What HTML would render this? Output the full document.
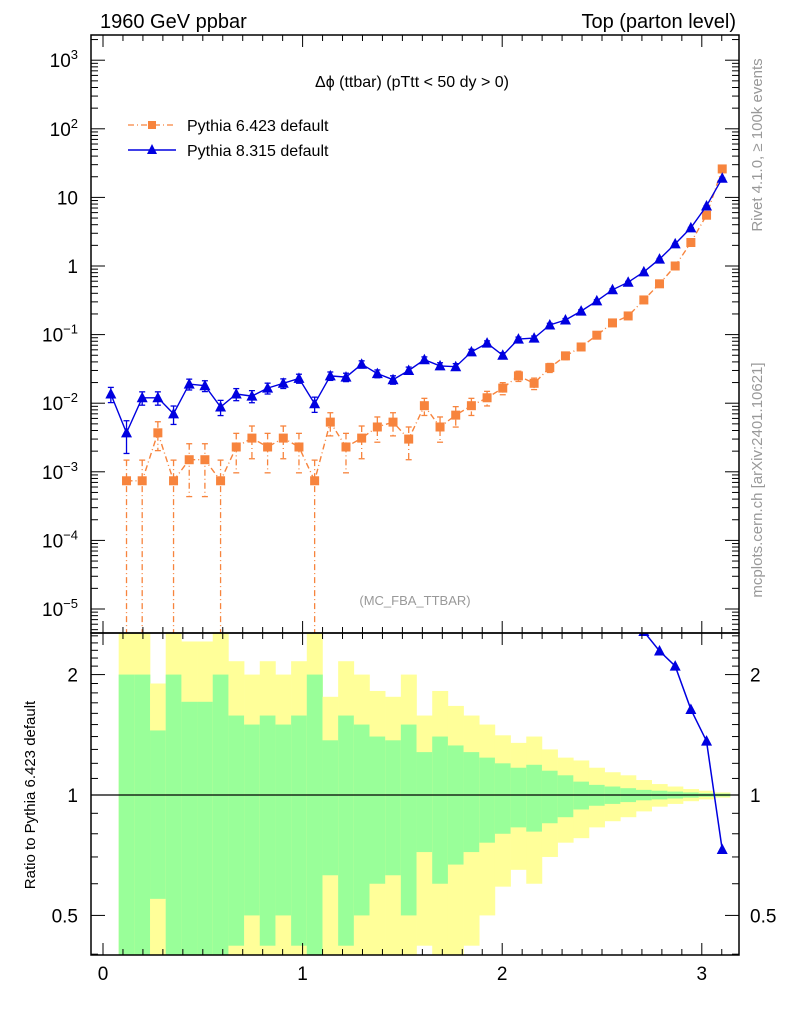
<!DOCTYPE html>
<html><head><meta charset="utf-8"><style>
html,body{margin:0;padding:0;background:#fff;width:786px;height:1024px;overflow:hidden}
svg{display:block;font-family:"Liberation Sans",sans-serif}
</style></head><body>
<svg id="chart" width="786" height="1024" xmlns="http://www.w3.org/2000/svg">
<defs>
<clipPath id="clipMain"><rect x="91" y="35" width="648" height="598"/></clipPath>
<clipPath id="clipRatio"><rect x="91" y="633" width="648" height="322"/></clipPath>
</defs>
<g id="bands" clip-path="url(#clipRatio)"></g>
<g id="marks"></g>
<g id="axes"></g>
<text x="100" y="28" font-size="20">1960 GeV ppbar</text>
<text x="736" y="28" font-size="20" text-anchor="end">Top (parton level)</text>
<text x="412" y="87" font-size="16" text-anchor="middle">Δϕ (ttbar) (pTtt &lt; 50 dy &gt; 0)</text>
<text x="415" y="605" font-size="13" fill="#999" text-anchor="middle">(MC_FBA_TTBAR)</text>
<g>
<g>
<line x1="128" y1="125" x2="176" y2="125" stroke="#f7843d" stroke-width="1.3" stroke-dasharray="6,3,1,3"/>
<rect x="148" y="121" width="8" height="8" fill="#f7843d"/>
<text x="187" y="131" font-size="16">Pythia 6.423 default</text></g>
<g>
<line x1="128" y1="150" x2="176" y2="150" stroke="#0000e0" stroke-width="1.5"/>
<path d="M152,144 L157,154 L147,154 Z" fill="#0000e0"/>
<text x="187" y="156" font-size="16">Pythia 8.315 default</text></g>
</g>
<text transform="translate(762,145) rotate(-90)" font-size="15" fill="#999" text-anchor="middle">Rivet 4.1.0, ≥ 100k events</text>
<text transform="translate(762,480) rotate(-90)" font-size="15" fill="#999" text-anchor="middle">mcplots.cern.ch [arXiv:2401.10621]</text>
<text transform="translate(35,795) rotate(-90)" font-size="15" text-anchor="middle">Ratio to Pythia 6.423 default</text>
</svg>
<script>
const nBins = 40;
const xMax = Math.PI;
const py6Values = [0, 7.4e-4, 7.4e-4, 3.7e-3, 7.4e-4, 1.5e-3, 1.5e-3, 7.4e-4, 2.3e-3, 3.1e-3, 2.3e-3, 3.1e-3, 2.3e-3, 7.4e-4, 5.3e-3, 2.3e-3, 3.1e-3, 4.5e-3, 5.3e-3, 3.0e-3, 9.2e-3, 4.5e-3, 6.7e-3, 9.2e-3, 0.012, 0.0166, 0.025, 0.0195, 0.033, 0.049, 0.066, 0.098, 0.148, 0.187, 0.32, 0.55, 1.0, 2.2, 5.5, 26];
const py6RelErr = [0, 1.0, 1.0, 0.45, 1.0, 0.71, 0.71, 1.0, 0.58, 0.5, 0.58, 0.5, 0.58, 1.0, 0.37, 0.58, 0.5, 0.4, 0.37, 0.5, 0.28, 0.4, 0.33, 0.28, 0.24, 0.2, 0.17, 0.19, 0.15, 0.12, 0.08, 0.06, 0.05, 0.04, 0.03, 0.025, 0.02, 0.015, 0.01, 0.008];
const py6TotErr = [0, 1.6, 1.6, 0.9, 1.6, 1.42, 1.42, 1.6, 1.16, 1.0, 1.16, 1.0, 1.16, 1.6, 0.76, 1.16, 1.0, 0.82, 0.76, 1.0, 0.58, 0.82, 0.67, 0.58, 0.5, 0.41, 0.35, 0.4, 0.3, 0.24, 0.22, 0.17, 0.14, 0.12, 0.09, 0.065, 0.05, 0.035, 0.025, 0.015];
const py8Values = [0.0136, 0.0037, 0.012, 0.012, 0.007, 0.019, 0.018, 0.0088, 0.0136, 0.0127, 0.0166, 0.0195, 0.023, 0.0098, 0.025, 0.024, 0.037, 0.027, 0.022, 0.03, 0.043, 0.035, 0.034, 0.056, 0.075, 0.05, 0.086, 0.089, 0.138, 0.163, 0.22, 0.31, 0.45, 0.58, 0.82, 1.26, 2.1, 3.6, 7.5, 19];
const py8RelErr = [0.25, 0.5, 0.22, 0.22, 0.3, 0.18, 0.18, 0.25, 0.2, 0.2, 0.18, 0.16, 0.15, 0.25, 0.14, 0.14, 0.12, 0.13, 0.14, 0.12, 0.1, 0.11, 0.11, 0.09, 0.08, 0.09, 0.07, 0.07, 0.06, 0.05, 0.045, 0.04, 0.035, 0.03, 0.025, 0.02, 0.017, 0.014, 0.01, 0.008];
const mainTickExps = [-5, -4, -3, -2, -1, 0, 1, 2, 3];
const mainTickLabels = ["10<tspan dy='-8' font-size='13'>−5</tspan>","10<tspan dy='-8' font-size='13'>−4</tspan>","10<tspan dy='-8' font-size='13'>−3</tspan>","10<tspan dy='-8' font-size='13'>−2</tspan>","10<tspan dy='-8' font-size='13'>−1</tspan>","1","10","10<tspan dy='-8' font-size='13'>2</tspan>","10<tspan dy='-8' font-size='13'>3</tspan>"];
const ratioTicks = [0.5, 1, 2];
const ratioTickLabels = ["0.5", "1", "2"];
const xTicks = [0, 1, 2, 3];
const xTickLabels = ["0", "1", "2", "3"];

const NS = "http://www.w3.org/2000/svg";
const X0 = 91, X1 = 739, MT = 35, MB = 633, RB = 955;
const xs = v => 103 + v * 199.6;
const ym = v => 266 - Math.log10(v) * 68.6;
const yr = v => 795 - Math.log10(v) * 400;
const bw = xMax / nBins;
const ctr = i => (i + 0.5) * bw;
const ORANGE = "#f7843d", BLUE = "#0000e0";

function el(tag, attrs, parent) {
  const e = document.createElementNS(NS, tag);
  for (const k in attrs) e.setAttribute(k, attrs[k]);
  parent.appendChild(e);
  return e;
}
const bands = document.getElementById('bands');
const marks = document.getElementById('marks');
const axes = document.getElementById('axes');

for (let i = 0; i < nBins; i++) {
  if (py6Values[i] <= 0) continue;
  const xa = xs(i * bw), xb = xs((i + 1) * bw);
  const t = py6TotErr[i], s = py6RelErr[i];
  const yt = yr(1 + t), ybt = (1 - t) > 0.01 ? yr(1 - t) : RB + 5;
  const yband = el('rect', {x: xa, y: yt, width: xb - xa + 0.3, height: ybt - yt, fill: '#ffff99'}, bands);
  
  
  const gt = yr(1 + s), gb = (1 - s) > 0.01 ? yr(1 - s) : RB + 5;
  const gband = el('rect', {x: xa, y: gt, width: xb - xa + 0.3, height: gb - gt, fill: '#99ff99'}, bands);
  
  
}
const unity = el('line', {x1: X0, x2: X1, y1: yr(1), y2: yr(1), stroke: '#000', 'stroke-width': 1.2}, bands);



const gm = el('g', {'clip-path': 'url(#clipMain)'}, marks);
function series(vals, errs, color, dash, marker, name) {
  const g = el('g', {}, gm);
  
  
  let d = '';
  vals.forEach((v, i) => {
    if (v <= 0) return;
    d += (d ? 'L' : 'M') + xs(ctr(i)).toFixed(1) + ',' + ym(v).toFixed(1);
  });
  el('path', {d: d, fill: 'none', stroke: color, 'stroke-width': 1.4, 'stroke-dasharray': dash}, g);
  vals.forEach((v, i) => {
    if (v <= 0) return;
    const x = xs(ctr(i)), y = ym(v);
    const lo = v * (1 - errs[i]), hi = v * (1 + errs[i]);
    const ylo = lo > 1e-7 ? ym(lo) : MB + 5, yhi = ym(hi);
    el('line', {x1: x, x2: x, y1: yhi, y2: ylo, stroke: color, 'stroke-width': 1.3, 'stroke-dasharray': dash}, g);
    el('line', {x1: x - 3, x2: x + 3, y1: yhi, y2: yhi, stroke: color, 'stroke-width': 1.3}, g);
    if (lo > 1e-7) el('line', {x1: x - 3, x2: x + 3, y1: ylo, y2: ylo, stroke: color, 'stroke-width': 1.3}, g);
    let m;
    if (marker === 'sq') m = el('rect', {x: x - 4.5, y: y - 4.5, width: 9, height: 9, fill: color}, g);
    else m = el('path', {d: `M${x},${y - 6}L${x + 5.5},${y + 4.5}L${x - 5.5},${y + 4.5}Z`, fill: color}, g);
    
    
  });
}
series(py6Values, py6RelErr, ORANGE, '6,3,1,3', 'sq', 'pythia6-series');
series(py8Values, py8RelErr, BLUE, '', 'tri', 'pythia8-series');

const gr = el('g', {'clip-path': 'url(#clipRatio)'}, marks);


let rd = '';
py8Values.forEach((v, i) => {
  if (py6Values[i] <= 0) return;
  const r = v / py6Values[i];
  rd += (rd ? 'L' : 'M') + xs(ctr(i)).toFixed(1) + ',' + yr(r).toFixed(1);
});
el('path', {d: rd, fill: 'none', stroke: BLUE, 'stroke-width': 1.5}, gr);
py8Values.forEach((v, i) => {
  if (py6Values[i] <= 0) return;
  const r = v / py6Values[i];
  const x = xs(ctr(i)), y = yr(r);
  if (y < MT || y > RB) return;
  const m = el('path', {d: `M${x},${y - 6}L${x + 5.5},${y + 4.5}L${x - 5.5},${y + 4.5}Z`, fill: BLUE}, gr);
  
  
});

const f1 = el('rect', {x: X0, y: MT, width: X1 - X0, height: MB - MT, fill: 'none', stroke: '#000', 'stroke-width': 1.5}, axes);


const f2 = el('rect', {x: X0, y: MB, width: X1 - X0, height: RB - MB, fill: 'none', stroke: '#000', 'stroke-width': 1.5}, axes);



function tick(x1, y1, x2, y2) { el('line', {x1, y1, x2, y2, stroke: '#000', 'stroke-width': 1}, axes); }
for (let k = 0; k <= 31; k++) {
  const v = k * 0.1, x = xs(v);
  if (x > X1) break;
  const L = (k % 10 === 0) ? 12 : 6;
  tick(x, MT, x, MT + L); tick(x, MB, x, MB - L);
  tick(x, MB, x, MB + L); tick(x, RB, x, RB - L);
}
xTicks.forEach((v, i) => {
  const t = el('text', {x: xs(v), y: 980, 'font-size': 19, 'text-anchor': 'middle'}, axes);
  t.textContent = xTickLabels[i];
  
  
});
mainTickExps.forEach((e, i) => {
  const y = ym(Math.pow(10, e));
  tick(X0, y, X0 + 14, y); tick(X1, y, X1 - 14, y);
  const t = el('text', {x: 78, y: y + 7, 'font-size': 19, 'text-anchor': 'end'}, axes);
  t.innerHTML = mainTickLabels[i];
  
  
});
for (let e = -6; e <= 3; e++) {
  for (let m = 2; m <= 9; m++) {
    const y = ym(m * Math.pow(10, e));
    if (y < MT || y > MB) continue;
    tick(X0, y, X0 + 7, y); tick(X1, y, X1 - 7, y);
  }
}
[0.4,0.5,0.6,0.7,0.8,0.9,1,1.1,1.2,1.3,1.4,1.5,1.6,1.7,1.8,1.9,2,2.1,2.2,2.3,2.4,2.5].forEach(v => {
  const y = yr(v);
  if (y < MB || y > RB) return;
  const L = (v === 0.5 || v === 1 || v === 2) ? 14 : 7;
  tick(X0, y, X0 + L, y); tick(X1, y, X1 - L, y);
});
ratioTicks.forEach((v, i) => {
  const y = yr(v);
  const t = el('text', {x: 78, y: y + 7, 'font-size': 19, 'text-anchor': 'end'}, axes);
  t.textContent = ratioTickLabels[i];
  
  
  const t2 = el('text', {x: 750, y: y + 7, 'font-size': 19}, axes);
  t2.textContent = ratioTickLabels[i];
  
  
});
</script>
</body></html>
